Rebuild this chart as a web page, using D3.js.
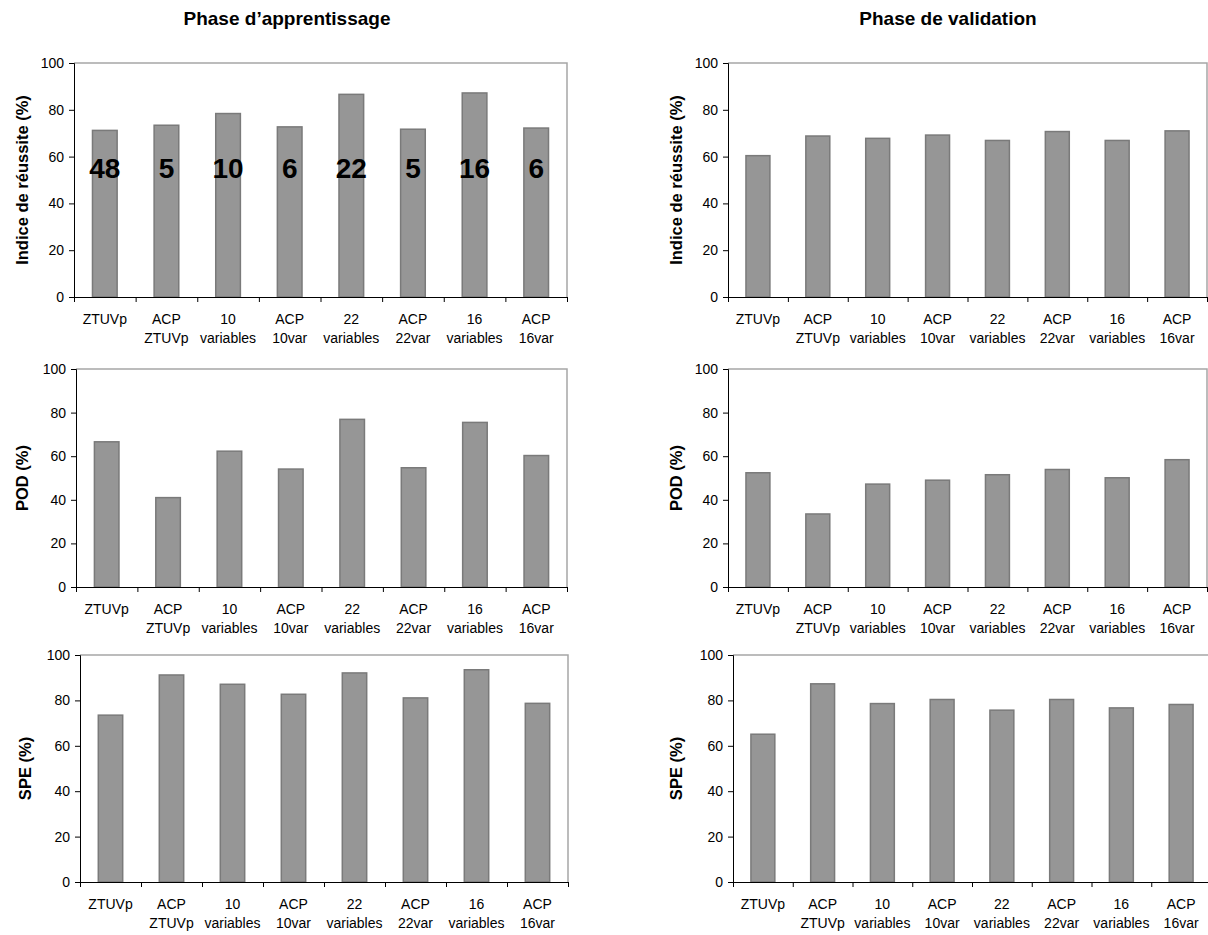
<!DOCTYPE html>
<html>
<head>
<meta charset="utf-8">
<script src="https://cdn.jsdelivr.net/npm/d3@7"></script>
<style>
  html, body { margin: 0; padding: 0; background: #fff; }
  svg { display: block; font-family: "Liberation Sans", Arial, sans-serif; }
</style>
</head>
<body>
<svg id="chart" width="1208" height="935"></svg>
<script>
// ---- data ----
const categoryLines = [
  ["ZTUVp"], ["ACP", "ZTUVp"], ["10", "variables"], ["ACP", "10var"],
  ["22", "variables"], ["ACP", "22var"], ["16", "variables"], ["ACP", "16var"]
];
const categories = categoryLines.map(d => d.join(" "));
const yTicks = [0, 20, 40, 60, 80, 100];

const irApprentissage  = [71.2, 73.4, 78.4, 72.7, 86.6, 71.7, 87.2, 72.2];
const irValidation     = [60.4, 68.8, 67.8, 69.2, 66.9, 70.7, 66.9, 71.0];
const podApprentissage = [66.6, 41.0, 62.3, 54.1, 76.9, 54.7, 75.5, 60.3];
const podValidation    = [52.4, 33.5, 47.2, 49.0, 51.5, 53.9, 50.1, 58.4];
const speApprentissage = [73.5, 91.2, 87.1, 82.7, 92.1, 81.1, 93.5, 78.7];
const speValidation    = [65.1, 87.3, 78.6, 80.4, 75.7, 80.4, 76.7, 78.2];

const nbVariables = ["48", "5", "10", "6", "22", "5", "16", "6"];
const nbVariablesLevel = 55;

const columnTitles = ["Phase d\u2019apprentissage", "Phase de validation"];
const yLabels = ["Indice de r\u00e9ussite (%)", "POD (%)", "SPE (%)"];

// ---- layout ----
const svg = d3.select("#chart");
const panels = [
  { vals: irApprentissage,  label: yLabels[0], x0: 74,  x1: 567,  y0: 63,  y1: 297, lx: 22,  notes: true },
  { vals: irValidation,     label: yLabels[0], x0: 728, x1: 1207, y0: 63,  y1: 297, lx: 676 },
  { vals: podApprentissage, label: yLabels[1], x0: 76,  x1: 567,  y0: 369, y1: 587, lx: 22 },
  { vals: podValidation,    label: yLabels[1], x0: 728, x1: 1207, y0: 369, y1: 587, lx: 676 },
  { vals: speApprentissage, label: yLabels[2], x0: 80,  x1: 568,  y0: 655, y1: 882, lx: 25 },
  { vals: speValidation,    label: yLabels[2], x0: 733, x1: 1211, y0: 655, y1: 882, lx: 676 }
];

// titles
svg.append("text").attr("x", 287).attr("y", 25).attr("text-anchor", "middle")
  .attr("font-size", 19).attr("font-weight", "bold").text(columnTitles[0]);
svg.append("text").attr("x", 948).attr("y", 25).attr("text-anchor", "middle")
  .attr("font-size", 19).attr("font-weight", "bold").text(columnTitles[1]);

panels.forEach(p => {
  const g = svg.append("g");
  const x = d3.scaleBand().domain(categories).range([p.x0, p.x1])
    .paddingInner(0.6).paddingOuter(0.3);
  const y = d3.scaleLinear().domain([0, 100]).range([p.y1, p.y0]);
  const xEdges = d3.scaleLinear().domain([0, categories.length]).range([p.x0, p.x1]);

  // frame (top & right)
  g.append("path")
    .attr("d", `M${p.x0},${y(100)}H${p.x1}V${y(0)}`)
    .attr("fill", "none").attr("stroke", "#a6a6a6").attr("stroke-width", 1.5);

  // bars
  g.selectAll("rect.bar").data(p.vals).join("rect")
    .attr("class", "bar")
    .attr("x", (d, i) => x(categories[i]))
    .attr("width", x.bandwidth())
    .attr("y", d => y(d))
    .attr("height", d => y(0) - y(d))
    .attr("fill", "#969696")
    .attr("stroke", "#7a7a7a")
    .attr("stroke-width", 1.5);

  // y axis
  const ya = g.append("g").attr("transform", `translate(${p.x0},0)`)
    .call(d3.axisLeft(y).tickValues(yTicks).tickSize(5).tickPadding(5).tickFormat(d3.format("d")));
  ya.select(".domain").attr("stroke", "#000");
  ya.selectAll("text").attr("font-size", 14).attr("fill", "#000")
    .attr("font-family", "'Liberation Sans', Arial, sans-serif");

  // x axis (ticks at category boundaries)
  const xa = g.append("g").attr("transform", `translate(0,${y(0)})`)
    .call(d3.axisBottom(xEdges).tickValues(d3.range(categories.length + 1)).tickSize(5).tickFormat(""));
  xa.select(".domain").attr("stroke", "#000");

  // category labels
  categoryLines.forEach((lines, i) => {
    const t = g.append("text").attr("text-anchor", "middle")
      .attr("font-size", 14).attr("fill", "#000")
      .attr("x", x(categories[i]) + x.bandwidth() / 2);
    lines.forEach((ln, j) => {
      t.append("tspan").attr("x", x(categories[i]) + x.bandwidth() / 2)
        .attr("y", y(0) + 27 + j * 19).text(ln);
    });
  });

  // y label
  const cy = (p.y0 + p.y1) / 2;
  g.append("text").attr("transform", `translate(${p.lx},${cy}) rotate(-90)`)
    .attr("text-anchor", "middle").attr("dominant-baseline", "central")
    .attr("font-size", 16.5).attr("font-weight", "bold").text(p.label);

  // number of variables annotations
  if (p.notes) {
    g.selectAll("text.note").data(nbVariables).join("text")
      .attr("class", "note")
      .attr("x", (d, i) => x(categories[i]) + x.bandwidth() / 2)
      .attr("y", y(nbVariablesLevel) + 10)
      .attr("text-anchor", "middle")
      .attr("font-size", 28).attr("font-weight", "bold").attr("fill", "#000")
      .text(d => d);
  }
});
</script>
</body>
</html>
